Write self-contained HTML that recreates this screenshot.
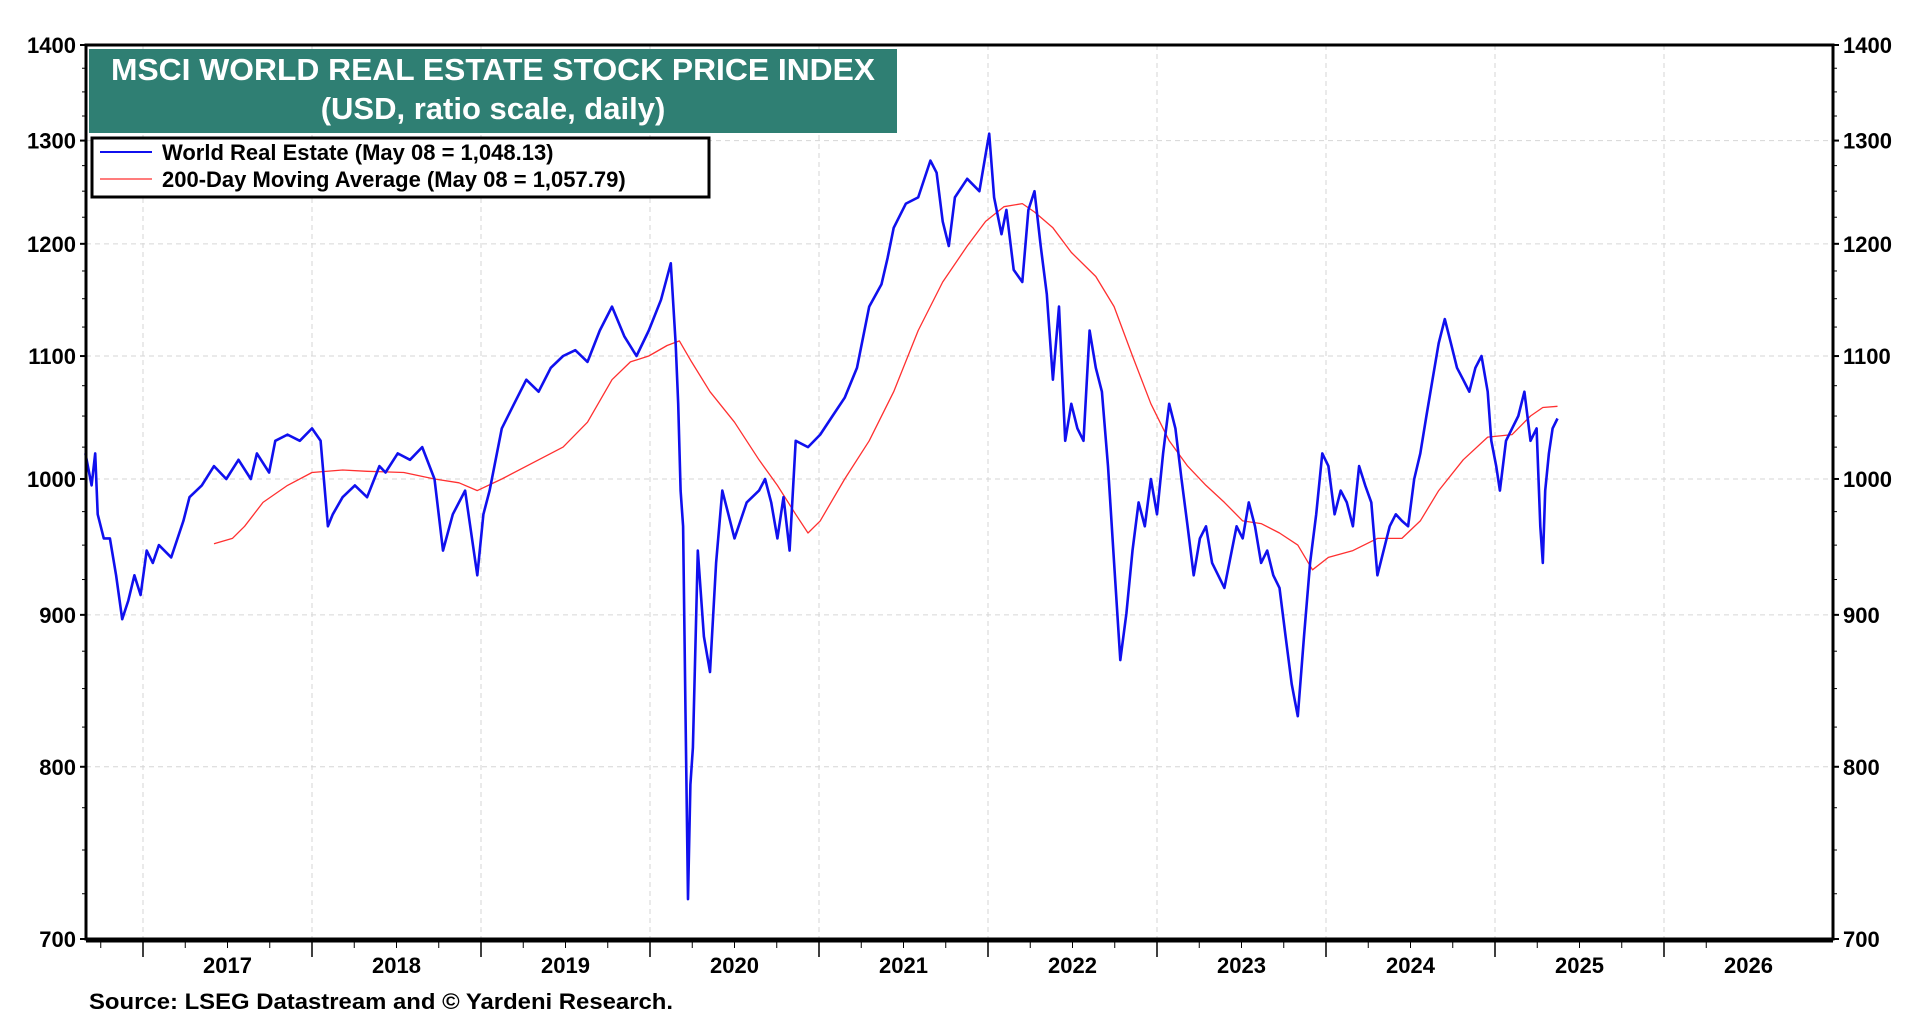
<!DOCTYPE html>
<html><head><meta charset="utf-8">
<style>
html,body{margin:0;padding:0;background:#fff;}
svg{display:block;}
text{font-family:"Liberation Sans Narrow","Liberation Sans",Arial,sans-serif;font-weight:bold;}
</style></head>
<body>
<svg id="chart" width="1920" height="1020" viewBox="0 0 1920 1020" xmlns="http://www.w3.org/2000/svg">
<rect x="0" y="0" width="1920" height="1020" fill="#fff"/>
<g id="grid"></g>
<g id="series"></g>
<g id="axes"></g>
<rect x="89" y="49" width="808" height="84" fill="#2f7f73"/>
<text x="493" y="80" fill="#fff" font-size="31" text-anchor="middle" textLength="764" lengthAdjust="spacingAndGlyphs">MSCI WORLD REAL ESTATE STOCK PRICE INDEX</text>
<text x="493" y="119" fill="#fff" font-size="31" text-anchor="middle">(USD, ratio scale, daily)</text>
<g>
<rect x="92" y="138" width="617" height="59" fill="#fff" stroke="#000" stroke-width="3"/>
<line x1="100" y1="152" x2="152" y2="152" stroke="#1010ee" stroke-width="2"/>
<text x="162" y="160" font-size="22">World Real Estate (May 08 = 1,048.13)</text>
<line x1="100" y1="179" x2="152" y2="179" stroke="#ff5050" stroke-width="1.5"/>
<text x="162" y="187" font-size="22">200-Day Moving Average (May 08 = 1,057.79)</text>
</g>
<text x="89" y="1009" font-size="22" textLength="584" lengthAdjust="spacingAndGlyphs">Source: LSEG Datastream and © Yardeni Research.</text>
</svg>
<script>
const yTicks=[700,800,900,1000,1100,1200,1300,1400];
const years=[2017,2018,2019,2020,2021,2022,2023,2024,2025,2026];
const priceDates=[2016.659,2016.696,2016.717,2016.732,2016.768,2016.804,2016.841,2016.877,2016.913,2016.949,2016.986,2017.022,2017.058,2017.094,2017.167,2017.239,2017.275,2017.348,2017.420,2017.493,2017.565,2017.638,2017.674,2017.746,2017.783,2017.855,2017.928,2018.000,2018.051,2018.094,2018.123,2018.181,2018.254,2018.326,2018.399,2018.435,2018.507,2018.580,2018.652,2018.725,2018.775,2018.833,2018.906,2018.978,2019.014,2019.051,2019.123,2019.196,2019.268,2019.341,2019.413,2019.486,2019.558,2019.630,2019.703,2019.775,2019.848,2019.920,2019.993,2020.065,2020.123,2020.152,2020.167,2020.181,2020.196,2020.210,2020.225,2020.239,2020.254,2020.283,2020.319,2020.355,2020.391,2020.428,2020.464,2020.500,2020.572,2020.645,2020.681,2020.717,2020.754,2020.790,2020.826,2020.862,2020.935,2021.007,2021.080,2021.152,2021.225,2021.297,2021.370,2021.406,2021.442,2021.514,2021.587,2021.659,2021.696,2021.732,2021.768,2021.804,2021.877,2021.949,2021.986,2022.007,2022.036,2022.080,2022.109,2022.152,2022.203,2022.239,2022.275,2022.312,2022.348,2022.384,2022.420,2022.457,2022.493,2022.529,2022.565,2022.601,2022.638,2022.674,2022.710,2022.746,2022.783,2022.819,2022.855,2022.891,2022.928,2022.964,2023.000,2023.036,2023.072,2023.109,2023.145,2023.181,2023.217,2023.254,2023.290,2023.326,2023.362,2023.399,2023.471,2023.507,2023.543,2023.580,2023.616,2023.652,2023.688,2023.725,2023.761,2023.797,2023.833,2023.870,2023.906,2023.942,2023.978,2024.014,2024.051,2024.087,2024.123,2024.159,2024.196,2024.232,2024.268,2024.304,2024.341,2024.377,2024.413,2024.449,2024.486,2024.522,2024.558,2024.594,2024.630,2024.667,2024.703,2024.739,2024.775,2024.812,2024.848,2024.884,2024.920,2024.957,2024.978,2025.007,2025.029,2025.065,2025.101,2025.138,2025.174,2025.210,2025.246,2025.268,2025.283,2025.297,2025.319,2025.341,2025.370];
const priceValues=[1020,995,1020,973,955,955,928,897,910,928,914,946,937,950,941,968,986,995,1010,1000,1015,1000,1020,1005,1030,1035,1030,1040,1030,964,973,986,995,986,1010,1005,1020,1015,1025,1000,946,973,991,928,973,991,1040,1060,1080,1070,1090,1100,1105,1095,1122,1143,1117,1100,1122,1149,1182,1110,1060,991,964,834,722,789,812,946,885,861,937,991,973,955,982,991,1000,982,955,986,946,1030,1025,1035,1050,1065,1090,1143,1163,1187,1215,1238,1244,1280,1268,1221,1198,1244,1262,1250,1286,1307,1244,1209,1232,1176,1165,1232,1250,1198,1154,1080,1143,1030,1060,1040,1030,1122,1090,1070,1010,937,869,901,946,982,964,1000,973,1020,1060,1040,1000,964,928,955,964,937,928,919,964,955,982,964,937,946,928,919,885,853,832,885,937,973,1020,1010,973,991,982,964,1010,995,982,928,946,964,973,968,964,1000,1020,1050,1080,1111,1132,1111,1090,1080,1070,1090,1100,1070,1030,1010,991,1030,1040,1050,1070,1030,1040,964,937,991,1020,1040,1048];
const maDates=[2017.420,2017.529,2017.601,2017.710,2017.855,2018.000,2018.181,2018.326,2018.543,2018.725,2018.870,2018.978,2019.123,2019.341,2019.486,2019.630,2019.775,2019.884,2019.993,2020.101,2020.174,2020.246,2020.355,2020.500,2020.645,2020.754,2020.862,2020.935,2021.007,2021.152,2021.297,2021.442,2021.587,2021.732,2021.877,2021.986,2022.094,2022.203,2022.275,2022.384,2022.493,2022.638,2022.746,2022.855,2022.964,2023.072,2023.181,2023.290,2023.399,2023.507,2023.616,2023.725,2023.833,2023.920,2024.014,2024.159,2024.304,2024.449,2024.558,2024.667,2024.812,2024.957,2025.101,2025.210,2025.283,2025.370];
const maValues=[951,955,964,982,995,1005,1007,1006,1005,1000,997,991,1000,1015,1025,1045,1080,1095,1100,1109,1113,1095,1070,1045,1015,995,973,959,968,1000,1030,1070,1122,1165,1198,1221,1235,1238,1230,1215,1192,1170,1143,1100,1060,1030,1010,995,982,968,966,959,950,932,941,946,955,955,968,991,1015,1033,1035,1050,1057,1058];

const L=86,R=1833,T=45,B=939;
const NS="http://www.w3.org/2000/svg";
function xs(t){return 143+(t-2017)*169;}
function ys(v){return T+Math.log(1400/v)/Math.log(2)*(B-T);}
function mk(tag,attrs,parent){const e=document.createElementNS(NS,tag);for(const k in attrs)e.setAttribute(k,attrs[k]);parent.appendChild(e);return e;}
const grid=document.getElementById('grid'),axes=document.getElementById('axes'),series=document.getElementById('series');

years.forEach(y=>{
  const gx=xs(y);
  const g=mk('line',{x1:gx,y1:T,x2:gx,y2:B,stroke:'#d6d6d6','stroke-width':1,'stroke-dasharray':'5,4'},grid);
  
  
});
yTicks.forEach(v=>{
  if(v===700||v===1400)return;
  const gy=ys(v);
  const g=mk('line',{x1:L,y1:gy,x2:R,y2:gy,stroke:'#d6d6d6','stroke-width':1,'stroke-dasharray':'5,4'},grid);
  
  
});

function path(dates,vals,color,w,name){
  let d='';
  for(let i=0;i<dates.length;i++)d+=(i?'L':'M')+xs(dates[i]).toFixed(1)+','+ys(vals[i]).toFixed(1);
  const p=mk('path',{d:d,fill:'none',stroke:color,'stroke-width':w,'stroke-linejoin':'round'},series);
  
  
}
path(maDates,maValues,'#ff3030',1.3,'moving-average-line');
path(priceDates,priceValues,'#1010ee',2.6,'world-real-estate-line');

const fr=mk('rect',{x:L,y:T,width:R-L,height:B-T,fill:'none',stroke:'#000','stroke-width':3},axes);


const bl=mk('line',{x1:L,y1:B+1,x2:R,y2:B+1,stroke:'#000','stroke-width':5},axes);



yTicks.forEach(v=>{
  const ty=ys(v);
  mk('line',{x1:L-6,y1:ty,x2:L,y2:ty,stroke:'#000','stroke-width':2},axes);
  mk('line',{x1:R,y1:ty,x2:R+6,y2:ty,stroke:'#000','stroke-width':2},axes);
  const t1=mk('text',{x:L-10,y:ty+8,'font-size':22,'text-anchor':'end'},axes);
  t1.textContent=v;
  
  
  const t2=mk('text',{x:R+10,y:ty+8,'font-size':22,'text-anchor':'start'},axes);
  t2.textContent=v;
  
  
});
for(let v=725;v<1400;v+=25){
  if(v%100===0)continue;
  const ty=ys(v);
  mk('line',{x1:L-4,y1:ty,x2:L,y2:ty,stroke:'#000','stroke-width':1},axes);
  mk('line',{x1:R,y1:ty,x2:R+4,y2:ty,stroke:'#000','stroke-width':1},axes);
}
for(let t=2016.5;t<2026.5;t+=0.25){
  const tx=xs(t);
  if(tx<L||tx>R)continue;
  const major=Math.abs(t-Math.round(t))<0.01;
  mk('line',{x1:tx,y1:B,x2:tx,y2:B+(major?18:9),stroke:'#000','stroke-width':major?1.5:1},axes);
}
years.forEach(y=>{
  const t=mk('text',{x:xs(y+0.5),y:973,'font-size':22,'text-anchor':'middle'},axes);
  t.textContent=y;
  
  
});
</script>
</body></html>
